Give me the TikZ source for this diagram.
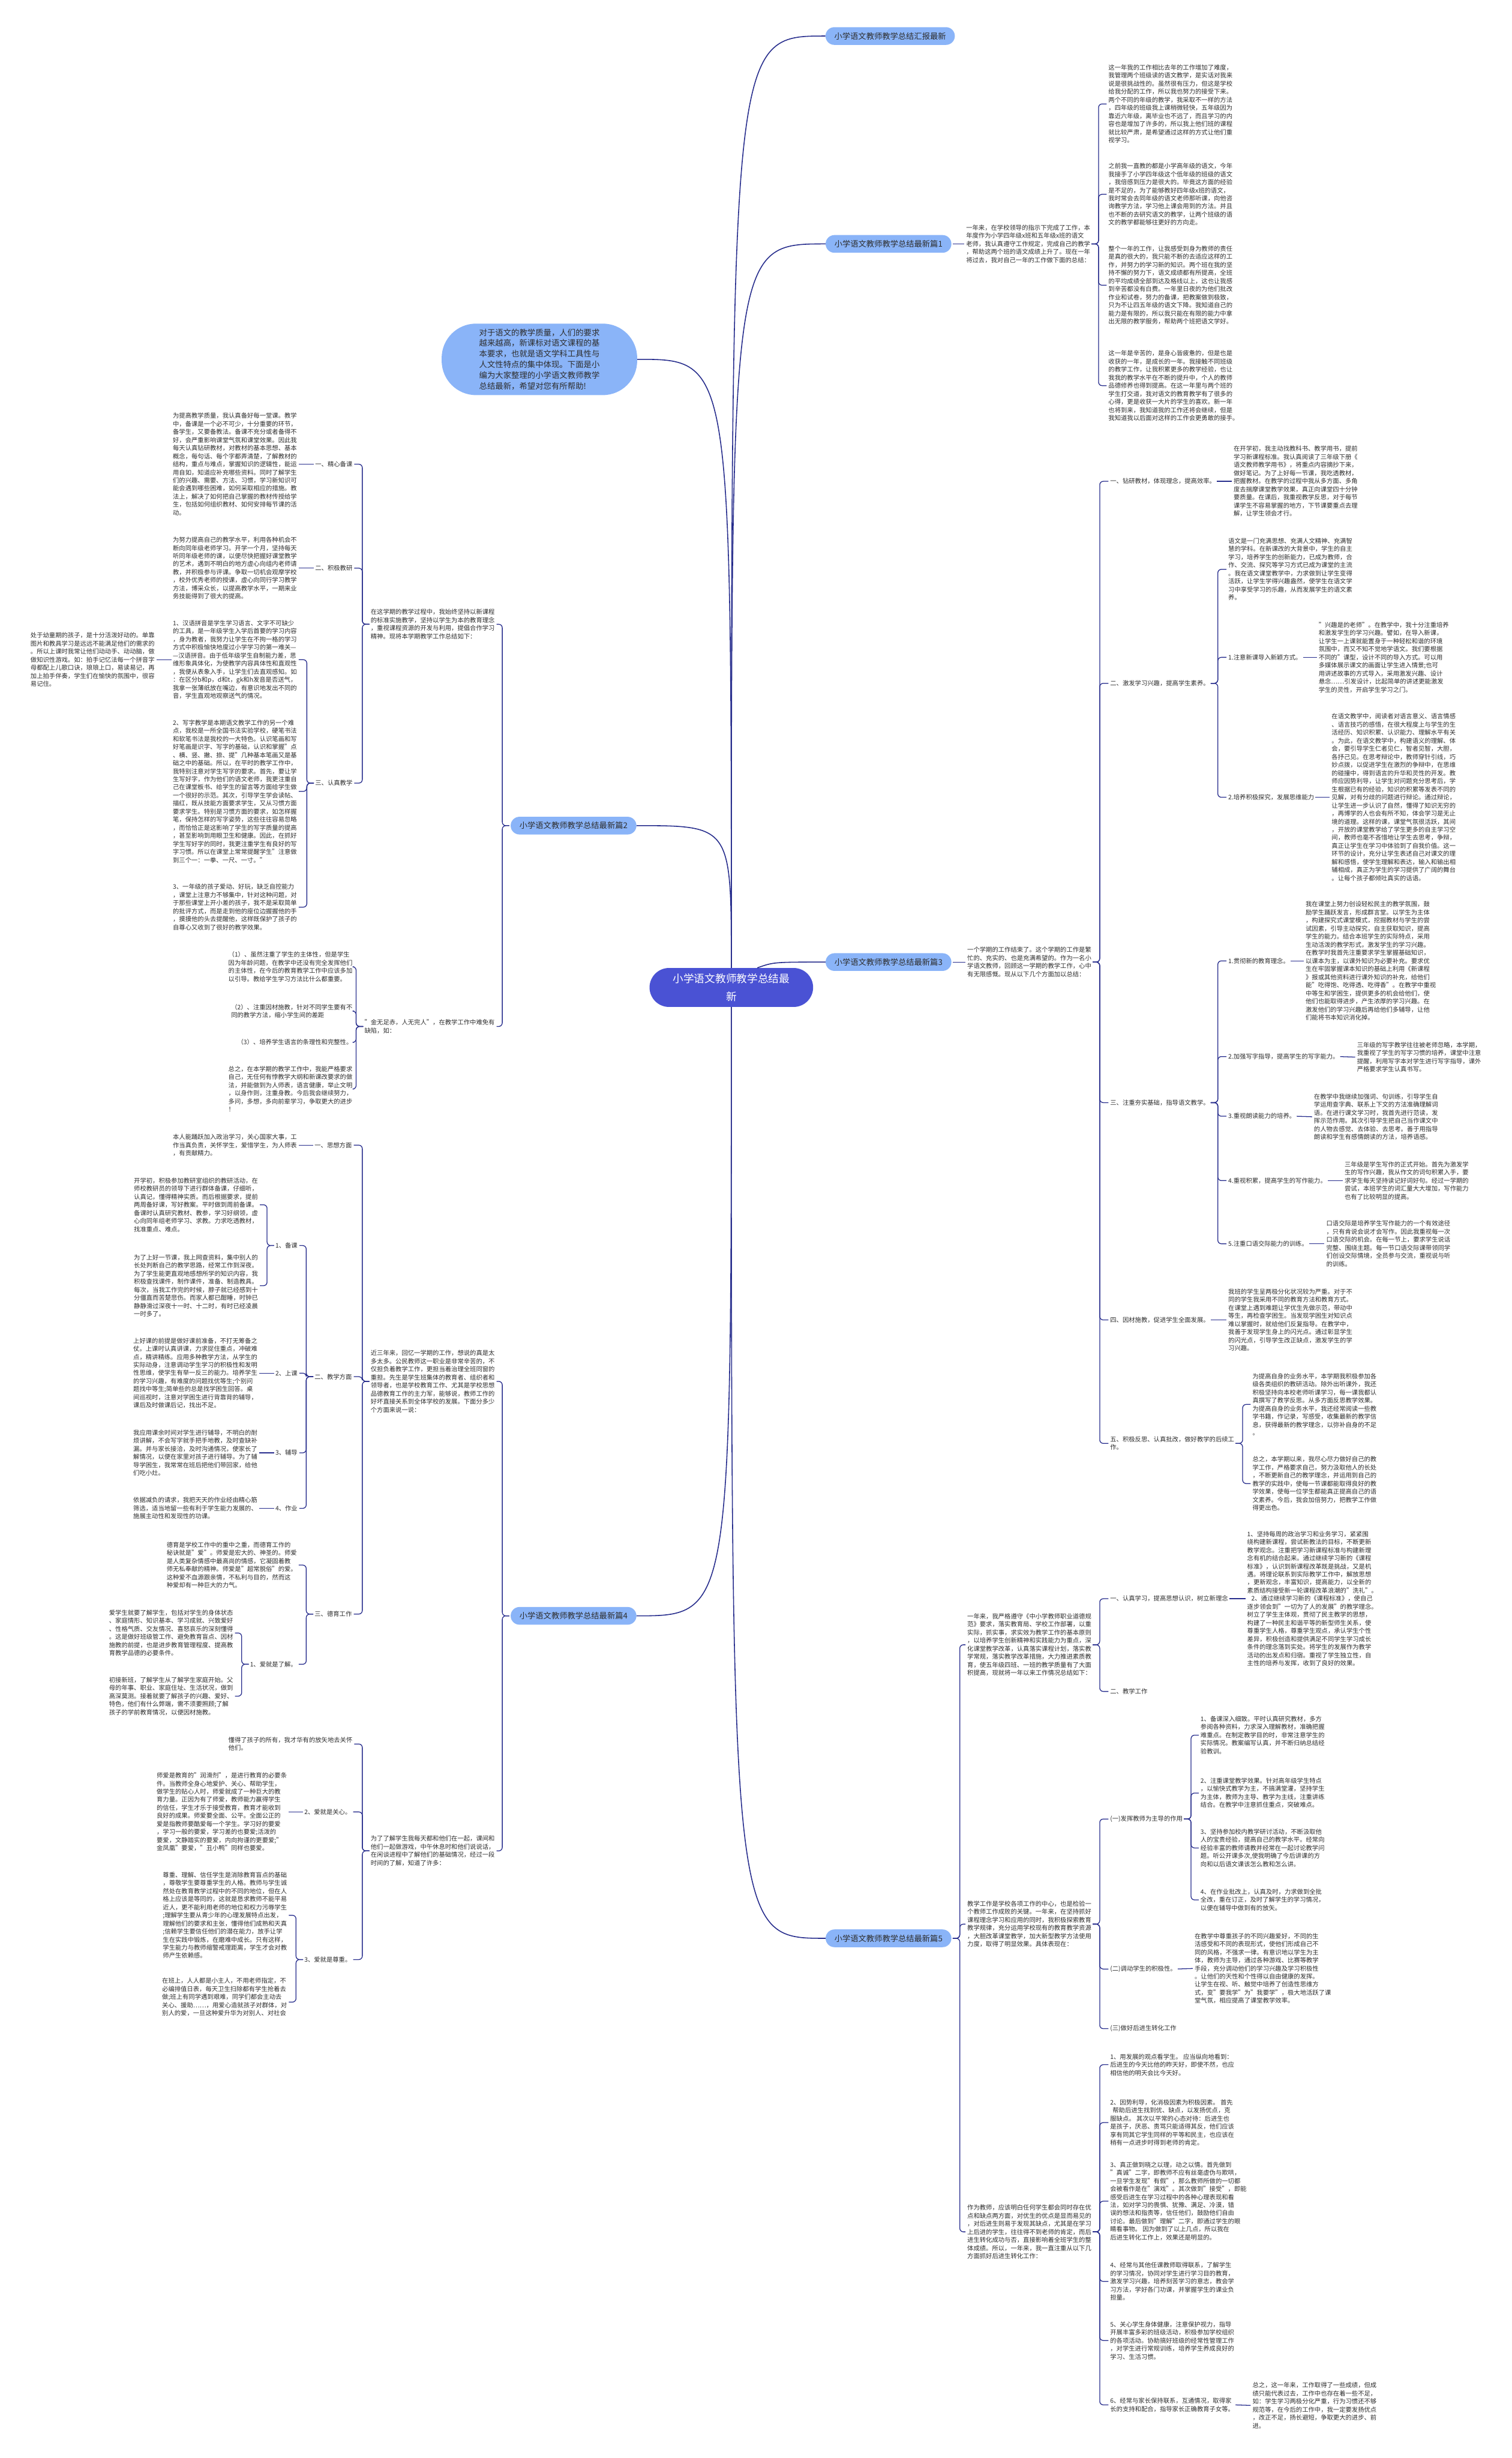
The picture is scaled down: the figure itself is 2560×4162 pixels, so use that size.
\documentclass[tikz,border=0pt]{standalone}
\usepackage{fontspec}
\setmainfont{Noto Sans CJK SC}
\definecolor{linec}{RGB}{38,44,140}
\definecolor{nodec}{RGB}{138,180,248}
\definecolor{rootc}{RGB}{74,82,212}
\definecolor{txtc}{RGB}{45,45,45}
\tikzset{
  txt/.style={inner sep=0pt, align=left, font=\fontsize{10.5}{13.7}\selectfont, text=txtc},
  br/.style={draw=linec, line width=1.3pt, rounded corners=6pt, shorten <=2pt, shorten >=3pt},
  mainln/.style={draw=linec, line width=1.6pt},
  branch/.style={fill=nodec, rounded corners=15pt, minimum height=30pt, minimum width=213pt, inner sep=0pt, font=\fontsize{13.5}{16}\selectfont, text=txtc},
  rootnode/.style={fill=rootc, rounded corners=33pt, minimum height=66pt, minimum width=277pt, inner sep=0pt, align=center, font=\fontsize{18}{30}\selectfont, text=white},
  bubble/.style={fill=nodec, rounded corners=58pt, minimum height=121pt, minimum width=331pt, inner sep=0pt, align=left, font=\fontsize{13.6}{18.2}\selectfont, text=txtc}
}
\newcommand\conR[2]{\draw[br] (#1.east) -- ++(14,0) |- (#2.west);}
\newcommand\conL[2]{\draw[br] (#1.west) -- ++(-14,0) |- (#2.east);}
\begin{document}
\begin{tikzpicture}[x=1pt,y=1pt]
\fill[white] (0,0) rectangle (2560,-4162);
\useasboundingbox (0,0) rectangle (2560,-4162);

% ---------- root and branches
\node[rootnode] (root) at (1238.5,-1672) {小学语文教师教学总结最\\新};
\node[branch, minimum width=219pt] (b0) at (1507.5,-61) {小学语文教师教学总结汇报最新};
\node[branch, anchor=west] (b1) at (1398,-413) {小学语文教师教学总结最新篇1};
\node[branch, anchor=east] (b2) at (1078,-1398) {小学语文教师教学总结最新篇2};
\node[branch, anchor=west] (b3) at (1398,-1629) {小学语文教师教学总结最新篇3};
\node[branch, anchor=east] (b4) at (1078,-2736) {小学语文教师教学总结最新篇4};
\node[branch, anchor=west] (b5) at (1398,-3282) {小学语文教师教学总结最新篇5};
\node[bubble] (intro) at (913.5,-608.5) {对于语文的教学质量，人们的要求\\越来越高，新课标对语文课程的基\\本要求，也就是语文学科工具性与\\人文性特点的集中体现。下面是小\\编为大家整理的小学语文教师教学\\总结最新，希望对您有所帮助!};

\draw[mainln] (root.north) .. controls (1238.5,-61) .. (b0.west);
\draw[mainln] (root.north) .. controls (1238.5,-413) .. (b1.west);
\draw[mainln] (root.north) .. controls (1238.5,-608) .. (intro.east);
\draw[mainln] (root.north) .. controls (1238.5,-1398) .. (b2.east);
\draw[mainln] ([xshift=44pt]root.north) .. controls (1310,-1629) .. (b3.west);
\draw[mainln] (root.south) .. controls (1238.5,-2736) .. (b4.east);
\draw[mainln] (root.south) .. controls (1238.5,-3282) .. (b5.west);

% ---------- branch 1
\node[txt, anchor=west] (t1) at (1636,-413) {一年来，在学校领导的指示下完成了工作，本\\年度作为小学四年级x班和五年级x班的语文\\老师，我认真遵守工作规定，完成自己的教学\\，帮助这两个班的语文成绩上升了。现在一年\\将过去，我对自己一年的工作做下面的总结：};
\node[txt, anchor=west] (t1a) at (1877,-176) {这一年我的工作相比去年的工作增加了难度，\\我管理两个班级读的语文教学，是实话对我来\\说是很挑战性的。虽然很有压力，但这是学校\\给我分配的工作，所以我也努力的接受下来。\\两个不同的年级的教学，我采取不一样的方法\\，四年级的班级我上课稍微轻快，五年级因为\\靠近六年级，离毕业也不远了，而且学习的内\\容也是增加了许多的，所以我上他们班的课程\\就比较严肃，是希望通过这样的方式让他们重\\视学习。};
\node[txt, anchor=west] (t1b) at (1877,-329) {之前我一直教的都是小学高年级的语文，今年\\我接手了小学四年级这个低年级的班级的语文\\，我倍感到压力是很大的。毕竟这方面的经验\\是不足的，为了能够教好四年级x班的语文，\\我时常会去同年级的语文老师那听课，向他咨\\询教学方法，学习他上课会用到的方法。并且\\也不断的去研究语文的教学，让两个班级的语\\文的教学都能够往更好的方向走。};
\node[txt, anchor=west] (t1c) at (1877,-483) {整个一年的工作，让我感受到身为教师的责任\\是真的很大的，我只能不断的去适应这样的工\\作，并努力的学习新的知识。两个班在我的坚\\持不懈的努力下，语文成绩都有所提高，全班\\的平均成绩全部到达及格线以上，这也让我感\\到辛苦都没有白费。一年里日夜的为他们批改\\作业和试卷，努力的备课，把教案做到极致，\\只为不让四五年级的语文下降。我知道自己的\\能力是有限的，所以我只能在有限的能力中拿\\出无限的教学服务，帮助两个班把语文学好。};
\node[txt, anchor=west] (t1d) at (1877,-653) {这一年是辛苦的，是身心皆疲惫的，但是也是\\收获的一年，是成长的一年。我接触不同班级\\的教学工作，让我积累更多的教学经验，也让\\我我的教学水平在不断的提升中，个人的教师\\品德修养也得到提高。在这一年里与两个班的\\学生打交道，我对语文的教育教学有了很多的\\心得，更是收获一大片的学生的喜欢。新一年\\也将到来，我知道我的工作还将会继续，但是\\我知道我以后面对这样的工作会更勇敢的接手。};
\draw[br] (b1.east) -- (t1.west);
\conR{t1}{t1a} \conR{t1}{t1b} \conR{t1}{t1c} \conR{t1}{t1d}

% ---------- branch 2
\node[txt, anchor=east] (t2a) at (838,-1057) {在这学期的教学过程中，我始终坚持以新课程\\的标准实施教学，坚持以学生为本的教育理念\\，重视课程资源的开发与利用，提倡合作学习\\精神。现将本学期教学工作总结如下：};
\node[txt, anchor=east] (t2b) at (838,-1738) {"金无足赤，人无完人"，在教学工作中难免有\\缺陷，如：};
\conL{b2}{t2a} \conL{b2}{t2b}
\node[txt, anchor=east] (l2a1) at (597,-786) {一、精心备课};
\node[txt, anchor=east] (l2a2) at (597,-962) {二、积极教研};
\node[txt, anchor=east] (l2a3) at (597,-1326) {三、认真教学};
\conL{t2a}{l2a1} \conL{t2a}{l2a2} \conL{t2a}{l2a3}
\node[txt, anchor=east] (p2a1) at (503,-786) {为提高教学质量，我认真备好每一堂课。教学\\中，备课是一个必不可少，十分重要的环节，\\备学生，又要备教法。备课不充分或者备得不\\好，会严重影响课堂气氛和课堂效果。因此我\\每天认真钻研教材，对教材的基本思想、基本\\概念，每句话、每个字都弄清楚，了解教材的\\结构，重点与难点，掌握知识的逻辑性，能运\\用自如，知道应补充哪些资料。同时了解学生\\们的兴趣、需要、方法、习惯，学习新知识可\\能会遇到哪些困难，如何采取相应的措施。教\\法上，解决了如何把自己掌握的教材传授给学\\生，包括如何组织教材、如何安排每节课的活\\动。};
\node[txt, anchor=east] (p2a2) at (503,-962) {为努力提高自己的教学水平，利用各种机会不\\断向同年级老师学习。开学一个月，坚持每天\\听同年级老师的课，以便尽快把握好课堂教学\\的艺术，遇到不明白的地方虚心向组内老师请\\教，并积极参与评课。争取一切机会观摩学校\\，校外优秀老师的授课，虚心向同行学习教学\\方法，博采众长，以提高教学水平，一期来业\\务技能得到了很大的提高。};
\draw[br] (l2a1.west) -- (p2a1.east);
\draw[br] (l2a2.west) -- (p2a2.east);
\node[txt, anchor=east] (p2a3a) at (503,-1117) {1、汉语拼音是学生学习语言、文字不可缺少\\的工具，是一年级学生入学后首要的学习内容\\，身为教者，我努力让学生在不拘一格的学习\\方式中积极愉快地度过小学学习的第一难关—\\—汉语拼音。由于低年级学生自制能力差，思\\维形象具体化，为使教学内容具体性和直观性\\，我便从表象入手，让学生们去直观感知。如\\：在区分b和p，d和t，gk和h发音是否送气，\\我拿一张薄纸放在嘴边，有意识地发出不同的\\音，学生直观地观察送气的情况。};
\node[txt, anchor=east] (p2a3b) at (503,-1340) {2、写字教学是本期语文教学工作的另一个难\\点，我校是一所全国书法实验学校，硬笔书法\\和软笔书法是我校的一大特色。认识笔画和写\\好笔画是识字、写字的基础，认识和掌握"点\\、横、竖、撇、捺、提"几种基本笔画又是基\\础之中的基础。所以，在平时的教学工作中，\\我特别注意对学生写字的要求。首先，要让学\\生写好字，作为他们的语文老师，我更注重自\\己在课堂板书、给学生的留言等方面给学生做\\一个很好的示范。其次，引导学生学会读帖、\\描红，既从技能方面要求学生，又从习惯方面\\要求学生。特别是习惯方面的要求，如怎样握\\笔，保持怎样的写字姿势，这些往往容易忽略\\，而恰恰正是这影响了学生的写字质量的提高\\，甚至影响到用眼卫生和健康。因此，在抓好\\学生写好字的同时，我更注重学生有良好的写\\字习惯。所以在课堂上常常提醒学生"注意做\\到三个一：一拳、一尺、一寸。"};
\node[txt, anchor=east] (p2a3c) at (503,-1536) {3、一年级的孩子爱动、好玩，缺乏自控能力\\，课堂上注意力不够集中，针对这种问题，对\\于那些课堂上开小差的孩子，我不是采取简单\\的批评方式，而是走到他的座位边握握他的手\\，摸摸他的头去提醒他，这样既保护了孩子的\\自尊心又收到了很好的教学效果。};
\conL{l2a3}{p2a3a} \conL{l2a3}{p2a3b} \conL{l2a3}{p2a3c}
\node[txt, anchor=east] (p2a3d) at (262,-1117) {处于幼童期的孩子，是十分活泼好动的。单靠\\图片和教具学习是远远不能满足他们的需求的\\。所以上课时我常让他们动动手、动动脑，做\\做知识性游戏。如：拍手记忆法每一个拼音字\\母都配上儿歌口诀，琅琅上口，易读易记，再\\加上拍手伴奏，学生们在愉快的氛围中，很容\\易记住。};
\draw[br] (p2a3a.west) -- (p2a3d.east);
\node[txt, anchor=east] (p2b1) at (597,-1637) {（1）、虽然注重了学生的主体性，但是学生\\因为年龄问题，在教学中还没有完全发挥他们\\的主体性，在今后的教育教学工作中应该多加\\以引导。教给学生学习方法比什么都重要。};
\node[txt, anchor=east] (p2b2) at (597,-1712) {（2）、注重因材施教，针对不同学生要有不\\同的教学方法，缩小学生间的差距};
\node[txt, anchor=east] (p2b3) at (597,-1765) {（3）、培养学生语言的条理性和完整性。};
\node[txt, anchor=east] (p2b4) at (597,-1844) {总之，在本学期的教学工作中，我能严格要求\\自己，无任何有悖教学大纲和新课改要求的做\\法，并能做到为人师表，语言健康，举止文明\\，以身作则，注重身教。今后我会继续努力，\\多问，多想，多向前辈学习，争取更大的进步\\！};
\conL{t2b}{p2b1} \conL{t2b}{p2b2} \conL{t2b}{p2b3} \conL{t2b}{p2b4}

% ---------- branch 3
\node[txt, anchor=west] (t3) at (1638,-1629) {一个学期的工作结束了。这个学期的工作是繁\\忙的、充实的、也是充满希望的。作为一名小\\学语文教师，回顾这一学期的教学工作，心中\\有无限感慨。现从以下几个方面加以总结：};
\draw[br] (b3.east) -- (t3.west);
\node[txt, anchor=west] (l31) at (1880,-815) {一、钻研教材，体现理念，提高效率。};
\node[txt, anchor=west] (l32) at (1880,-1157) {二、激发学习兴趣，提高学生素养。};
\node[txt, anchor=west] (l33) at (1880,-1867) {三、注重夯实基础，指导语文教学。};
\node[txt, anchor=west] (l34) at (1880,-2235) {四、因材施教，促进学生全面发展。};
\node[txt, anchor=west] (l35) at (1880,-2444) {五、积极反思、认真批改，做好教学的后续工\\作。};
\conR{t3}{l31} \conR{t3}{l32} \conR{t3}{l33} \conR{t3}{l34} \conR{t3}{l35}
\node[txt, anchor=west] (p31) at (2089,-815) {在开学初，我主动找教科书、教学用书，提前\\学习新课程标准。我认真阅读了三年级下册《\\语文教师教学用书》，将重点内容摘抄下来，\\做好笔记。为了上好每一节课，我吃透教材，\\把握教材。在教学的过程中我从多方面、多角\\度去揣摩课堂教学效果，真正向课堂四十分钟\\要质量。在课后，我重视教学反思，对于每节\\课学生不容易掌握的地方，下节课要重点去理\\解，让学生领会才行。};
\draw[br] (l31.east) -- (p31.west);
\node[txt, anchor=west] (p32a) at (2080,-964) {语文是一门充满思想、充满人文精神、充满智\\慧的学科。在新课改的大背景中，学生的自主\\学习，培养学生的创新能力，已成为教师，合\\作、交流、探究等学习方式已成为课堂的主流\\。我在语文课堂教学中，力求做到让学生变得\\活跃，让学生学得兴趣盎然，使学生在语文学\\习中享受学习的乐趣，从而发展学生的语文素\\养。};
\node[txt, anchor=west] (l32b) at (2080,-1113) {1.注意新课导入新颖方式。};
\node[txt, anchor=west] (l32c) at (2080,-1350) {2.培养积极探究，发展思维能力};
\conR{l32}{p32a} \conR{l32}{l32b} \conR{l32}{l32c}
\node[txt, anchor=west] (p32b) at (2233,-1113) {"兴趣是的老师"。在教学中，我十分注重培养\\和激发学生的学习兴趣。譬如，在导入新课，\\让学生一上课就能置身于一种轻松和谐的环境\\氛围中，而又不知不觉地学语文。我们要根据\\不同的"课型，设计不同的导入方式。可以用\\多媒体展示课文的画面让学生进入情景;也可\\用讲述故事的方式导入，采用激发兴趣、设计\\悬念……引发设计，比起简单的讲述更能激发\\学生的灵性，开启学生学习之门。};
\draw[br] (l32b.east) -- (p32b.west);
\node[txt, anchor=west] (p32c) at (2255,-1350) {在语文教学中，阅读者对语言意义、语言情感\\、语言技巧的感悟，在很大程度上与学生的生\\活经历、知识积累、认识能力、理解水平有关\\。为此，在语文教学中，构建语义的理解、体\\会，要引导学生仁者见仁，智者见智，大胆，\\各抒己见。在思考辩论中，教师穿针引线，巧\\妙点拨，以促进学生在激烈的争辩中，在思维\\的碰撞中，得到语言的升华和灵性的开发。教\\师应因势利导，让学生对问题充分思考后，学\\生根据已有的经验，知识的积累等发表不同的\\见解，对有分歧的问题进行辩论。通过辩论，\\让学生进一步认识了自然，懂得了知识无穷的\\，再博学的人也会有所不知，体会学习是无止\\境的道理。这样的课，课堂气氛很活跃，其间\\，开放的课堂教学给了学生更多的自主学习空\\间，教师也毫不吝惜地让学生去思考，争辩，\\真正让学生在学习中体验到了自我价值。这一\\环节的设计，充分让学生表述自己对课文的理\\解和感悟，使学生理解和表达，输入和输出相\\辅相成，真正为学生的学习提供了广阔的舞台\\。让每个孩子都倾吐真实的话语。};
\draw[br] (l32c.east) -- (p32c.west);
\node[txt, anchor=west] (l33a) at (2080,-1627) {1.贯彻新的教育理念。};
\node[txt, anchor=west] (l33b) at (2080,-1789) {2.加强写字指导，提高学生的写字能力。};
\node[txt, anchor=west] (l33c) at (2080,-1890) {3.重视朗读能力的培养。};
\node[txt, anchor=west] (l33d) at (2080,-1999) {4.重视积累，提高学生的写作能力。};
\node[txt, anchor=west] (l33e) at (2080,-2106) {5.注重口语交际能力的训练。};
\conR{l33}{l33a} \conR{l33}{l33b} \conR{l33}{l33c} \conR{l33}{l33d} \conR{l33}{l33e}
\node[txt, anchor=west] (p33a) at (2211,-1627) {我在课堂上努力创设轻松民主的教学氛围，鼓\\励学生踊跃发言，形成群言堂。以学生为主体\\，构建探究式课堂模式，挖掘教材与学生的尝\\试因素，引导主动探究，自主获取知识，提高\\学生的能力。结合本班学生的实际特点，采用\\生动活泼的教学形式，激发学生的学习兴趣。\\在教学时我首先注重要求学生掌握基础知识，\\以课本为主，以课外知识为必要补充。要求优\\生在牢固掌握课本知识的基础上利用《新课程\\》报或其他资料进行课外知识的补充，给他们\\能"吃得饱、吃得透、吃得香"。在教学中重视\\中等生和学困生，提供更多的机会给他们，使\\他们也能取得进步，产生浓厚的学习兴趣。在\\激发他们的学习兴趣后再给他们多辅导，让他\\们能将书本知识消化掉。};
\node[txt, anchor=west] (p33b) at (2298,-1790) {三年级的写字教学往往被老师忽略，本学期，\\我重视了学生的写字习惯的培养，课堂中注意\\提醒，利用写字本对学生进行写字指导，课外\\严格要求学生认真书写。};
\node[txt, anchor=west] (p33c) at (2225,-1891) {在教学中我继续加强词、句训练，引导学生自\\学运用查字典、联系上下文的方法准确理解词\\语。在进行课文学习时，我首先进行范读，发\\挥示范作用。其次引导学生把自己当作课文中\\的人物去感觉、去体验、去思考。善于用指导\\朗读和学生有感情朗读的方法，培养语感。};
\node[txt, anchor=west] (p33d) at (2277,-1999) {三年级是学生写作的正式开始。首先为激发学\\生的写作兴趣，我从作文的词句积累入手，要\\求学生每天坚持读记好词好句。经过一学期的\\尝试，本班学生的词汇量大大增加，写作能力\\也有了比较明显的提高。};
\node[txt, anchor=west] (p33e) at (2246,-2106) {口语交际是培养学生写作能力的一个有效途径\\，只有肯说会说才会写作。因此我重视每一次\\口语交际的机会。在每一节上，要求学生说话\\完整、围绕主题。每一节口语交际课带领同学\\们创设交际情境，全员参与交流，重视说与听\\的训练。};
\draw[br] (l33a.east) -- (p33a.west);
\draw[br] (l33b.east) -- (p33b.west);
\draw[br] (l33c.east) -- (p33c.west);
\draw[br] (l33d.east) -- (p33d.west);
\draw[br] (l33e.east) -- (p33e.west);
\node[txt, anchor=west] (p34) at (2080,-2235) {我班的学生呈两极分化状况较为严重。对于不\\同的学生我采用不同的教育方法和教育方式。\\在课堂上遇到难题让学优生先做示范，带动中\\等生，再检查学困生。当发现学困生对知识点\\难以掌握时，就给他们反复指导。在教学中，\\我善于发现学生身上的闪光点。通过彰显学生\\的闪光点，引导学生改正缺点，激发学生的学\\习兴趣。};
\draw[br] (l34.east) -- (p34.west);
\node[txt, anchor=west] (p35a) at (2121,-2378) {为提高自身的业务水平，本学期我积极参加各\\级各类组织的教研活动。除外出听课外，我还\\积极坚持向本校老师听课学习，每一课我都认\\真撰写了教学反思。从多方面反思教学效果。\\为提高自身的业务水平，我还经常阅读一些教\\学书籍，作记录，写感受，收集最新的教学信\\息，获得最新的教学理念，以弥补自身的不足\\。};
\node[txt, anchor=west] (p35b) at (2121,-2512) {总之，本学期以来，我尽心尽力做好自己的教\\学工作，严格要求自己，努力汲取他人的长处\\，不断更新自己的教学理念，并运用到自己的\\教学的实践中，使每一节课都能取得良好的教\\学效果，使每一位学生都能真正提高自己的语\\文素养。今后，我会加倍努力，把教学工作做\\得更出色。};
\conR{l35}{p35a} \conR{l35}{p35b}

% ---------- branch 4
\node[txt, anchor=east] (t4a) at (838,-2339) {近三年来，回忆一学期的工作，想说的真是太\\多太多。公民教师这一职业是非常辛苦的，不\\仅担负着教学工作，更担当着治理全班同窗的\\重担。先生是学生班集体的教育者、组织者和\\领导者，也是学校教育工作、尤其是学校思想\\品德教育工作的主力军，能够说，教师工作的\\好坏直接关系到全体学校的发展。下面分多少\\个方面来说一说：};
\node[txt, anchor=east] (t4b) at (838,-3134) {为了了解学生我每天都和他们在一起，课间和\\他们一起做游戏，中午休息时和他们说说话，\\在闲谈进程中了解他们的基础情况，经过一段\\时间的了解，知道了许多：};
\conL{b4}{t4a} \conL{b4}{t4b}
\node[txt, anchor=east] (l4a1) at (596,-1939) {一、思想方面};
\node[txt, anchor=east] (l4a2) at (596,-2331) {二、教学方面};
\node[txt, anchor=east] (l4a3) at (596,-2733) {三、德育工作};
\conL{t4a}{l4a1} \conL{t4a}{l4a2} \conL{t4a}{l4a3}
\node[txt, anchor=east] (p4a1) at (503,-1939) {本人能踊跃加入政治学习，关心国家大事，工\\作当真负责，关怀学生，爱惜学生，为人师表\\，有贡献精力。};
\draw[br] (l4a1.west) -- (p4a1.east);
\node[txt, anchor=east] (l4b1) at (504,-2109) {1、备课};
\node[txt, anchor=east] (l4b2) at (504,-2325) {2、上课};
\node[txt, anchor=east] (l4b3) at (504,-2460) {3、辅导};
\node[txt, anchor=east] (l4b4) at (504,-2554) {4、作业};
\conL{l4a2}{l4b1} \conL{l4a2}{l4b2} \conL{l4a2}{l4b3} \conL{l4a2}{l4b4}
\node[txt, anchor=east] (p4b1a) at (437,-2040) {开学初，积极参加教研室组织的教研活动，在\\师校教研员的领导下进行群体备课，仔细听，\\认真记，懂得精神实质。而后根据要求，提前\\两周备好课，写好教案。平时做到周前备课。\\备课时认真研究教材、教参，学习好纲领，虚\\心向同年组老师学习、求教。力求吃透教材，\\找准重点、难点。};
\node[txt, anchor=east] (p4b1b) at (437,-2177) {为了上好一节课，我上网查资料，集中别人的\\长处判断自己的教学思路，经常工作到深夜。\\为了学生能更直观地感想所学的知识内容，我\\积极查找课件，制作课件，准备、制造教具。\\每次，当我工作完的时候，脖子就已经感到十\\分僵直而苦楚悲伤。而家人都已酣睡，时钟已\\静静滑过深夜十一时、十二时，有时已经凌晨\\一时多了。};
\conL{l4b1}{p4b1a} \conL{l4b1}{p4b1b}
\node[txt, anchor=east] (p4b2) at (436,-2325) {上好课的前提是做好课前准备，不打无筹备之\\仗。上课时认真讲课，力求捉住重点，冲破难\\点，精讲精练。应用多种教学方法，从学生的\\实际动身，注意调动学生学习的积极性和发明\\性思维，使学生有举一反三的能力。培养学生\\的学习兴趣，有难度的问题找优等生;个别问\\题找中等生;简单些的总是找学困生回答。桌\\间巡视时，注意对学困生进行背靠背的辅导，\\课后及时做课后记，找出不足。};
\node[txt, anchor=east] (p4b3) at (436,-2460) {我应用课余时间对学生进行辅导，不明白的耐\\烦讲解，不会写字就手把手地教，及时查缺补\\漏。并与家长接洽，及时沟通情况，使家长了\\解情况，以便在家里对孩子进行辅导。为了辅\\导学困生，我常常在班后把他们带回家，给他\\们吃小灶。};
\node[txt, anchor=east] (p4b4) at (436,-2554) {依据减负的请求，我把天天的作业经由精心筋\\筛选，适当地留一些有利于学生能力发展的、\\施展主动性和发现性的功课。};
\draw[br] (l4b2.west) -- (p4b2.east);
\draw[br] (l4b3.west) -- (p4b3.east);
\draw[br] (l4b4.west) -- (p4b4.east);
\node[txt, anchor=east] (p4c1) at (503,-2650) {德育是学校工作中的重中之重，而德育工作的\\秘诀就是"爱"。师爱是宏大的、神圣的。师爱\\是人类复杂情感中最高尚的情感，它凝固着教\\师无私奉献的精神。师爱是"超常脱俗"的爱。\\这种爱不血源跟亲情，不私利与目的，然而这\\种爱却有一种巨大的力气。};
\node[txt, anchor=east] (l4c2) at (503,-2818) {1、爱就是了解。};
\conL{l4a3}{p4c1} \conL{l4a3}{l4c2}
\node[txt, anchor=east] (p4c2a) at (395,-2765) {爱学生就要了解学生，包括对学生的身体状态\\、家庭情形、知识基本、学习成就、兴致爱好\\、性格气质、交友情况、喜怒哀乐的深刻懂得\\。这是做好班级管工作、避免教育盲点、因材\\施教的前提，也是进步教育管理程度、提高教\\育教学品德的必要条件。};
\node[txt, anchor=east] (p4c2b) at (395,-2872) {初接新班，了解学生从了解学生家庭开始。父\\母的年事、职业、家庭住址、生活状况，做到\\高深莫测。接着就要了解孩子的兴趣、爱好、\\特色，他们有什么弊端，需不须要照顾;了解\\孩子的学前教育情况，以便因材施教。};
\conL{l4c2}{p4c2a} \conL{l4c2}{p4c2b}
\node[txt, anchor=east] (p4d1) at (597,-2953) {懂得了孩子的所有，我才华有的放矢地去关怀\\他们。};
\node[txt, anchor=east] (l4d2) at (595,-3068) {2、爱就是关心。};
\node[txt, anchor=east] (l4d3) at (595,-3318) {3、爱就是尊重。};
\conL{t4b}{p4d1} \conL{t4b}{l4d2} \conL{t4b}{l4d3}
\node[txt, anchor=east] (p4d2) at (486,-3068) {师爱是教育的"润滑剂"，是进行教育的必要条\\件。当教师全身心地爱护、关心、帮助学生，\\做学生的贴心人时，师爱就成了一种巨大的教\\育力量。正因为有了师爱，教师能力赢得学生\\的信任，学生才乐于接受教育，教育才能收到\\良好的成果。师爱要全面、公平。全面公正的\\爱是指教师要酷爱每一个学生。学习好的要爱\\，学习一般的要爱，学习差的也要爱;活泼的\\要爱，文静踏实的要爱，内向拘谨的更要爱;"\\金凤凰"要爱，"丑小鸭"同样也要爱。};
\draw[br] (l4d2.west) -- (p4d2.east);
\node[txt, anchor=east] (p4d3a) at (486,-3243) {尊重、理解、信任学生是消除教育盲点的基础\\，尊敬学生要尊重学生的人格。教师与学生诚\\然处在教育教学过程中的不同的地位，但在人\\格上应该是等同的，这就是恳求教师不能平易\\近人，更不能利用老师的地位和权力污辱学生\\;理解学生要从青少年的心理发展特点出发，\\理解他们的要求和主张，懂得他们成熟和天真\\;信赖学生要信任他们的潜在能力，放手让学\\生在实践中锻炼，在磨难中成长。只有这样，\\学生能力与教师缩警戒理距离，学生才会对教\\师产生依赖感。};
\node[txt, anchor=north east] (p4d3b) at (486,-3349) {在班上，人人都是小主人，不用老师指定，不\\必编排值日表，每天卫生扫除都有学生抢着去\\做;班上有同学遇到艰难，同学们都会主动去\\关心、援助……，用爱心造就孩子对群体，对\\别人的爱，一旦这种爱升华为对别人、对社会};
\draw[br] (l4d3.west) -- ++(-14,0) |- (p4d3a.east);
\draw[br] (l4d3.west) -- ++(-14,0) |- ([yshift=-41pt]p4d3b.north east);

% ---------- branch 5
\node[txt, anchor=west] (t5a) at (1638,-2785) {一年来，我严格遵守《中小学教师职业道德规\\范》要求，落实教育局、学校工作部署，以重\\实际，抓实事，求实效为教学工作的基本原则\\，以培养学生创新精神和实践能力为重点，深\\化课堂教学改革，认真落实课程计划，落实教\\学常规，落实教学改革措施，大力推进素质教\\育，使五年级四班、一班的教学质量有了大面\\积提高，现就将一年以来工作情况总结如下：};
\node[txt, anchor=west] (t5b) at (1638,-3258) {教学工作是学校各项工作的中心，也是检验一\\个教师工作成败的关键。一年来，在坚持抓好\\课程理念学习和应用的同时，我积极探索教育\\教学规律，充分运用学校现有的教育教学资源\\，大胆改革课堂教学，加大新型教学方法使用\\力度，取得了明显效果。具体表现在：};
\node[txt, anchor=west] (t5c) at (1638,-3779) {作为教师，应该明白任何学生都会同时存在优\\点和缺点两方面，对优生的优点是显而易见的\\，对后进生则易于发现其缺点，尤其是在学习\\上后进的学生，往往得不到老师的肯定，而后\\进生转化成功与否，直接影响着全班学生的整\\体成绩。所以，一年来，我一直注重从以下几\\方面抓好后进生转化工作：};
\conR{b5}{t5a} \conR{b5}{t5b} \conR{b5}{t5c}
\node[txt, anchor=west] (l5a1) at (1880,-2707) {一、认真学习，提高思想认识，树立新理念};
\node[txt, anchor=west] (l5a2) at (1880,-2864) {二、教学工作};
\conR{t5a}{l5a1} \conR{t5a}{l5a2}
\node[txt, anchor=west] (p5a1) at (2112,-2707) {1、坚持每周的政治学习和业务学习，紧紧围\\绕构建新课程，尝试新教法的目标，不断更新\\教学观念。注重把学习新课程标准与构建新理\\念有机的结合起来。通过继续学习新的《课程\\标准》，认识到新课程改革既是挑战，又是机\\遇。将理论联系到实际教学工作中，解放思想\\，更新观念，丰富知识，提高能力，以全新的\\素质结构接受新一轮课程改革浪潮的"洗礼"。\\\hspace*{7pt}2、通过继续学习新的《课程标准》，使自己\\逐步领会到"一切为了人的发展"的教学理念。\\树立了学生主体观，贯彻了民主教学的思想，\\构建了一种民主和谐平等的新型师生关系，使\\尊重学生人格，尊重学生观点，承认学生个性\\差异，积极创造和提供满足不同学生学习成长\\条件的理念落到实处。将学生的发展作为教学\\活动的出发点和归宿。重视了学生独立性，自\\主性的培养与发挥，收到了良好的效果。};
\draw[br] (l5a1.east) -- (p5a1.west);
\node[txt, anchor=west] (l5b1) at (1880,-3080) {(一)发挥教师为主导的作用};
\node[txt, anchor=west] (l5b2) at (1880,-3334) {(二)调动学生的积极性。};
\node[txt, anchor=west] (l5b3) at (1880,-3435) {(三)做好后进生转化工作};
\conR{t5b}{l5b1} \conR{t5b}{l5b2} \conR{t5b}{l5b3}
\node[txt, anchor=west] (p5b1a) at (2033,-2938) {1、备课深入细致。平时认真研究教材，多方\\参阅各种资料，力求深入理解教材，准确把握\\难重点。在制定教学目的时，非常注意学生的\\实际情况。教案编写认真，并不断归纳总结经\\验教训。};
\node[txt, anchor=west] (p5b1b) at (2033,-3036) {2、注重课堂教学效果。针对高年级学生特点\\，以愉快式教学为主，不搞满堂灌，坚持学生\\为主体，教师为主导、教学为主线，注重讲练\\结合。在教学中注意抓住重点，突破难点。};
\node[txt, anchor=west] (p5b1c) at (2033,-3129) {3、坚持参加校内教学研讨活动，不断汲取他\\人的宝贵经验，提高自己的教学水平。经常向\\经验丰富的教师请教并经常在一起讨论教学问\\题。听公开课多次,使我明确了今后讲课的方\\向和以后语文课该怎么教和怎么讲。};
\node[txt, anchor=west] (p5b1d) at (2033,-3217) {4、在作业批改上，认真及时，力求做到全批\\全改，重在订正，及时了解学生的学习情况，\\以便在辅导中做到有的放矢。};
\conR{l5b1}{p5b1a} \conR{l5b1}{p5b1b} \conR{l5b1}{p5b1c} \conR{l5b1}{p5b1d}
\node[txt, anchor=west] (p5b2) at (2023,-3333) {在教学中尊重孩子的不同兴趣爱好，不同的生\\活感受和不同的表现形式，使他们形成自己不\\同的风格，不强求一律。有意识地以学生为主\\体，教师为主导，通过各种游戏、比赛等教学\\手段，充分调动他们的学习兴趣及学习积极性\\。让他们的天性和个性得以自由健康的发挥。\\让学生在视、听、触觉中培养了创造性思维方\\式，变"要我学"为"我要学"，极大地活跃了课\\堂气氛，相应提高了课堂教学效率。};
\draw[br] (l5b2.east) -- (p5b2.west);
\node[txt, anchor=west] (p5c1) at (1880,-3496) {1、用发展的观点看学生。 应当纵向地看到：\\后进生的今天比他的昨天好，即使不然，也应\\相信他的明天会比今天好。};
\node[txt, anchor=west] (p5c2) at (1880,-3594) {2、因势利导，化消极因素为积极因素。 首先\\\hspace*{4pt}帮助后进生找到优、缺点，以发扬优点，克\\服缺点。 其次以平常的心态对待：后进生也\\是孩子，厌恶、责骂只能适得其反，他们应该\\享有同其它学生同样的平等和民主，也应该在\\稍有一点进步时得到老师的肯定。};
\node[txt, anchor=west] (p5c3) at (1880,-3727) {3、真正做到晓之以理，动之以情。首先做到\\"真诚"二字，即教师不应有丝毫虚伪与欺哄，\\一旦学生发现"有假"，那么教师所做的一切都\\会被看作是在"演戏"。其次做到"接受"，即能\\感受后进生在学习过程中的各种心理表现和看\\法，如对学习的畏惧、犹豫、满足、冷漠，错\\误的想法和指责等，信任他们，鼓励他们自由\\讨论。最后做到"理解"二字，即通过学生的眼\\睛看事物。 因为做到了以上几点，所以我在\\后进生转化工作上，效果还是明显的。};
\node[txt, anchor=west] (p5c4) at (1880,-3863) {4、经常与其他任课教师取得联系，了解学生\\的学习情况，协同对学生进行学习目的教育，\\激发学习兴趣，培养刻苦学习的意志，教会学\\习方法，学好各门功课，并掌握学生的课业负\\担量。};
\node[txt, anchor=west] (p5c5) at (1880,-3963) {5、关心学生身体健康，注意保护视力，指导\\开展丰富多彩的班级活动，积极参加学校组织\\的各项活动。协助搞好班级的经常性管理工作\\，对学生进行常规训练，培养学生养成良好的\\学习、生活习惯。};
\node[txt, anchor=west] (p5c6) at (1880,-4072) {6、经常与家长保持联系，互通情况，取得家\\长的支持和配合，指导家长正确教育子女等。};
\conR{t5c}{p5c1} \conR{t5c}{p5c2} \conR{t5c}{p5c3} \conR{t5c}{p5c4} \conR{t5c}{p5c5} \conR{t5c}{p5c6}
\node[txt, anchor=west] (p5c6a) at (2121,-4073) {总之，这一年来，工作取得了一些成绩，但成\\绩只能代表过去，工作中也存在着一些不足，\\如：学生学习两极分化严重，行为习惯还不够\\规范等，在今后的工作中，我一定要发扬优点\\，改正不足，扬长避短，争取更大的进步、前\\进。};
\draw[br] (p5c6.east) -- (p5c6a.west);
\end{tikzpicture}
\end{document}
